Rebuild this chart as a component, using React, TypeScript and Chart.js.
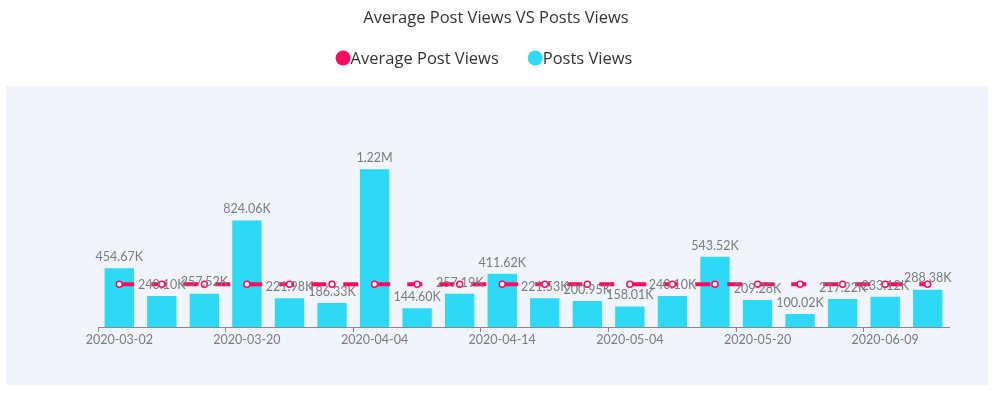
import React, { useEffect, useRef } from "react";
import { Chart, registerables } from "chart.js";

Chart.register(...registerables);

const categories = [
  "2020-03-02", "2020-03-08", "2020-03-14", "2020-03-20", "2020-03-26",
  "2020-03-30", "2020-04-04", "2020-04-07", "2020-04-10", "2020-04-14",
  "2020-04-20", "2020-04-27", "2020-05-04", "2020-05-09", "2020-05-14",
  "2020-05-20", "2020-05-26", "2020-06-02", "2020-06-09", "2020-06-14",
];

const postViews = [
  454670, 240100, 257520, 824060, 221980, 186330, 1220000, 144600, 257190, 411620,
  221530, 200950, 158010, 240100, 543520, 209280, 100020, 217220, 233120, 288380,
];

const averageViews = [
  331510, 331510, 331510, 331510, 331510, 331510, 331510, 331510, 331510, 331510,
  331510, 331510, 331510, 331510, 331510, 331510, 331510, 331510, 331510, 331510,
];

const legendItems = ["Average Post Views", "Posts Views"];
const legendColors = ["#ff0a5f", "#2dd9f5"];

const PINK = legendColors[0];
const CYAN = legendColors[1];
const TEXT_FONT = "'Open Sans', sans-serif";
const NUM_FONT = "Lato, 'Open Sans', sans-serif";

function fmt(v: number): string {
  if (v >= 1e6) return (v / 1e6).toFixed(2) + "M";
  return (v / 1e3).toFixed(2) + "K";
}

const bgPlugin = {
  id: "panelBg",
  beforeDraw(chart: any) {
    const { ctx } = chart;
    ctx.save();
    ctx.fillStyle = "#f1f4fb";
    ctx.fillRect(6, 86, 982, 299);
    ctx.restore();
  },
};

const legendPlugin = {
  id: "customLegend",
  afterDraw(chart: any) {
    const { ctx } = chart;
    ctx.save();
    ctx.font = `16.5px ${TEXT_FONT}`;
    ctx.textBaseline = "middle";
    ctx.textAlign = "left";
    const r = 7.5;
    const gap = 29;
    const widths = legendItems.map((t) => 2 * r + ctx.measureText(t).width);
    const total = widths.reduce((a, b) => a + b, 0) + gap * (legendItems.length - 1);
    let x = chart.width / 2 - total / 2 - 12;
    const y = 58;
    legendItems.forEach((t, i) => {
      ctx.fillStyle = legendColors[i];
      ctx.beginPath();
      ctx.arc(x + r, y, r, 0, Math.PI * 2);
      ctx.fill();
      ctx.fillStyle = "#333333";
      ctx.fillText(t, x + 2 * r, y + 1);
      x += widths[i] + gap;
    });
    ctx.restore();
  },
};

const labelPlugin = {
  id: "barLabels",
  afterDatasetsDraw(chart: any) {
    const { ctx } = chart;
    const dsIndex = chart.data.datasets.findIndex((d: any) => d.type === "bar");
    const meta = chart.getDatasetMeta(dsIndex);
    ctx.save();
    ctx.font = `12.5px ${NUM_FONT}`;
    ctx.fillStyle = "#7b7b7b";
    ctx.textAlign = "center";
    ctx.textBaseline = "bottom";
    meta.data.forEach((el: any, i: number) => {
      const v = chart.data.datasets[dsIndex].data[i];
      ctx.fillText(fmt(v), el.x, el.y - 5);
    });
    ctx.restore();
  },
};

export default function App() {
  const ref = useRef<HTMLCanvasElement | null>(null);

  useEffect(() => {
    document.body.style.margin = "0";
    const canvas = ref.current;
    if (!canvas) return;
    const chart = new Chart(canvas, {
      type: "bar",
      data: {
        labels: categories,
        datasets: [
          {
            type: "line",
            label: legendItems[0],
            data: averageViews,
            borderColor: PINK,
            backgroundColor: PINK,
            borderWidth: 4,
            borderDash: [15, 17],
            pointRadius: 3,
            pointBackgroundColor: "#ffffff",
            pointBorderColor: PINK,
            pointBorderWidth: 1.5,
            order: 0,
          } as any,
          {
            type: "bar",
            label: legendItems[1],
            data: postViews,
            backgroundColor: CYAN,
            borderWidth: 0,
            barPercentage: 0.69,
            categoryPercentage: 1,
            order: 1,
          } as any,
        ],
      },
      options: {
        animation: false,
        responsive: false,
        maintainAspectRatio: false,
        layout: { padding: { left: 0, right: 0, top: 0, bottom: 46 } },
        plugins: {
          title: {
            display: true,
            text: "Average Post Views VS Posts Views",
            color: "#333333",
            font: { family: TEXT_FONT, size: 16.5, weight: "normal", lineHeight: 1.1 },
            padding: { top: 9, bottom: 49 },
          },
          legend: { display: false },
          tooltip: { enabled: false },
        },
        scales: {
          x: {
            grid: {
              display: true,
              drawOnChartArea: false,
              tickLength: 5,
              tickColor: (c: any) => (c.index % 3 === 0 ? "#888888" : "rgba(0,0,0,0)"),
            },
            border: { display: true, color: "#888888" },
            ticks: {
              autoSkip: false,
              maxRotation: 0,
              padding: 0,
              color: "#7b7b7b",
              font: { family: NUM_FONT, size: 12.5 },
              callback: (_v: any, i: number) => (i % 3 === 0 ? categories[i] : ""),
            },
          },
          y: {
            display: true,
            position: "left",
            min: 0,
            max: 1940000,
            ticks: { display: false },
            grid: { display: false },
            border: { display: false },
            afterFit: (s: any) => {
              s.width = 98;
            },
          },
          yRight: {
            display: true,
            position: "right",
            ticks: { display: false },
            grid: { display: false },
            border: { display: false },
            afterFit: (s: any) => {
              s.width = 43;
            },
          },
        },
      },
      plugins: [bgPlugin, labelPlugin, legendPlugin],
    });
    return () => chart.destroy();
  }, []);

  return <canvas ref={ref} width={992} height={393} style={{ display: "block" }} />;
}
